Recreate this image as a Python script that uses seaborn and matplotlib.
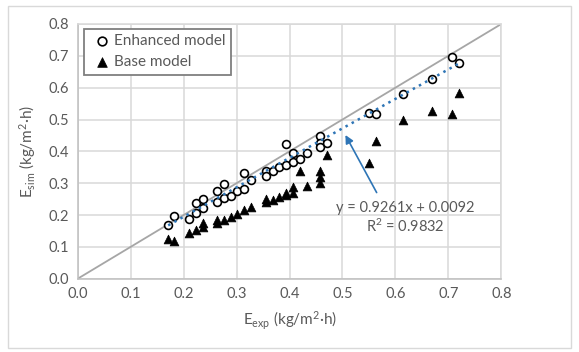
import numpy as np
import pandas as pd
import matplotlib
matplotlib.use("Agg")
import matplotlib.pyplot as plt
import seaborn as sns
from matplotlib.patches import Rectangle

# ---- data ----
enh_x = [0.171, 0.182, 0.210, 0.223, 0.223, 0.236, 0.236, 0.263, 0.263, 0.276, 0.276,
         0.289, 0.301, 0.314, 0.314, 0.328, 0.355, 0.355, 0.368, 0.381, 0.393, 0.393,
         0.406, 0.406, 0.419, 0.433, 0.458, 0.458, 0.458, 0.471, 0.550, 0.563, 0.615,
         0.669, 0.707, 0.720]
enh_y = [0.168, 0.197, 0.188, 0.237, 0.205, 0.251, 0.221, 0.276, 0.240, 0.297, 0.253,
         0.261, 0.276, 0.331, 0.282, 0.309, 0.339, 0.323, 0.338, 0.352, 0.422, 0.358,
         0.394, 0.366, 0.377, 0.395, 0.449, 0.427, 0.413, 0.427, 0.521, 0.516, 0.581,
         0.626, 0.697, 0.677]
base_x = [0.171, 0.182, 0.210, 0.223, 0.236, 0.236, 0.263, 0.263, 0.276, 0.289, 0.301,
          0.314, 0.328, 0.355, 0.355, 0.368, 0.381, 0.393, 0.393, 0.406, 0.406, 0.419,
          0.433, 0.458, 0.458, 0.458, 0.471, 0.550, 0.563, 0.615, 0.669, 0.707, 0.720]
base_y = [0.126, 0.119, 0.145, 0.153, 0.163, 0.176, 0.176, 0.186, 0.184, 0.193, 0.203,
          0.216, 0.226, 0.241, 0.249, 0.247, 0.256, 0.263, 0.270, 0.270, 0.289, 0.339,
          0.291, 0.302, 0.320, 0.337, 0.388, 0.365, 0.432, 0.497, 0.528, 0.516, 0.583]
trend_slope = 0.9261
trend_intercept = 0.0092
r_squared = 0.9832
ticks = [0.0, 0.1, 0.2, 0.3, 0.4, 0.5, 0.6, 0.7, 0.8]
series_names = ["Enhanced model", "Base model"]

# ---- style ----
sns.set_style("whitegrid")
plt.rcParams['font.family'] = ['Lato', 'DejaVu Sans']
plt.rcParams['mathtext.fontset'] = 'custom'
plt.rcParams['mathtext.rm'] = 'Lato'
plt.rcParams['mathtext.it'] = 'Lato:italic'

text_gray = "#595959"
grid_gray = "#d9d9d9"

fig = plt.figure(figsize=(5.79, 3.52), dpi=100)
ax = fig.add_axes([0.134, 0.208, 0.732, 0.724])

# 1:1 line
ax.plot([ticks[0], ticks[-1]], [ticks[0], ticks[-1]], color="#a6a6a6", lw=1.3, zorder=2)

df_e = pd.DataFrame({"x": enh_x, "y": enh_y})
df_b = pd.DataFrame({"x": base_x, "y": base_y})

sns.scatterplot(data=df_e, x="x", y="y", ax=ax, marker="o", s=32,
                facecolor="white", edgecolor="black", linewidth=1.2,
                label=series_names[0], zorder=4)
sns.scatterplot(data=df_b, x="x", y="y", ax=ax, marker="^", s=40,
                color="black", edgecolor="black", linewidth=0.5,
                label=series_names[1], zorder=3)

# trend line
tx = np.array([min(enh_x), max(enh_x)])
ax.plot(tx, trend_slope * tx + trend_intercept, color="#2e75b6", lw=1.8,
        ls=(0, (1, 1.8)), zorder=5)

# annotation
ax.annotate("", xy=(0.503, 0.459), xytext=(0.567, 0.263),
            arrowprops=dict(arrowstyle="-|>", color="#2e75b6", lw=1.2,
                            mutation_scale=12), zorder=6)
ax.text(0.618, 0.223, f"y = {trend_slope}x + {trend_intercept}", ha="center", va="center",
        color=text_gray, fontsize=10.5)
ax.text(0.618, 0.166, f"R$^2$ = {r_squared}", ha="center", va="center",
        color=text_gray, fontsize=10.5)

ax.set_xlim(ticks[0], ticks[-1])
ax.set_ylim(ticks[0], ticks[-1])
ax.set_xticks(ticks)
ax.set_yticks(ticks)
ax.set_xticklabels([f"{t:.1f}" for t in ticks])
ax.set_yticklabels([f"{t:.1f}" for t in ticks])
ax.tick_params(colors=text_gray, labelsize=10.5, length=0, pad=6)
ax.grid(True, color=grid_gray, lw=1.1)
for s in ax.spines.values():
    s.set_color(grid_gray)
    s.set_linewidth(1.1)
ax.spines["left"].set_color("#bfbfbf")
ax.spines["bottom"].set_color("#bfbfbf")

ax.set_xlabel(r"E$_{\mathrm{exp}}$ (kg/m$^2$·h)", color=text_gray, fontsize=11, labelpad=6)
ax.set_ylabel(r"E$_{\mathrm{sim}}$ (kg/m$^2$·h)", color=text_gray, fontsize=11, labelpad=8)

leg = ax.legend(loc="upper left", bbox_to_anchor=(0.015, 0.98), frameon=True, fancybox=False,
                fontsize=11, handletextpad=0.0, borderpad=0.35, labelspacing=0.45,
                borderaxespad=0.0, handlelength=1.6, markerscale=1.1)
leg.get_frame().set_edgecolor("#7f7f7f")
leg.get_frame().set_linewidth(1.3)
leg.get_frame().set_alpha(1)
for t in leg.get_texts():
    t.set_color(text_gray)

# outer border
fig.patches.append(Rectangle((0.014, 0.011), 0.972, 0.972, transform=fig.transFigure,
                             fill=False, edgecolor="#d9d9d9", lw=1.0))

fig.savefig("out.png", dpi=100)
